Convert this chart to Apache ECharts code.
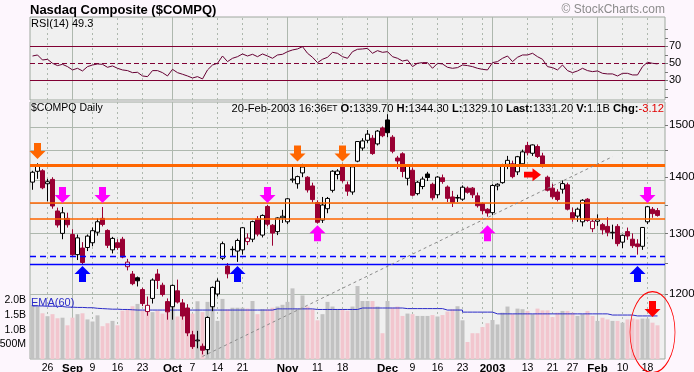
<!DOCTYPE html>
<html>
<head>
<meta charset="utf-8">
<script src="https://cdn.jsdelivr.net/npm/echarts@6.0.0/dist/echarts.min.js"></script>
<style>
html,body{margin:0;padding:0;background:#FDF6FD;}
#chart{width:694px;height:372px;}
</style>
</head>
<body>
<div id="chart"></div>
<script>
const dates = ['2002-08-21','2002-08-22','2002-08-23','2002-08-26','2002-08-27','2002-08-28','2002-08-29','2002-08-30',
'2002-09-03','2002-09-04','2002-09-05','2002-09-06','2002-09-09','2002-09-10','2002-09-11','2002-09-12','2002-09-13','2002-09-16','2002-09-17','2002-09-18','2002-09-19','2002-09-20','2002-09-23','2002-09-24','2002-09-25','2002-09-26','2002-09-27','2002-09-30',
'2002-10-01','2002-10-02','2002-10-03','2002-10-04','2002-10-07','2002-10-08','2002-10-09','2002-10-10','2002-10-11','2002-10-14','2002-10-15','2002-10-16','2002-10-17','2002-10-18','2002-10-21','2002-10-22','2002-10-23','2002-10-24','2002-10-25','2002-10-28','2002-10-29','2002-10-30','2002-10-31',
'2002-11-01','2002-11-04','2002-11-05','2002-11-06','2002-11-07','2002-11-08','2002-11-11','2002-11-12','2002-11-13','2002-11-14','2002-11-15','2002-11-18','2002-11-19','2002-11-20','2002-11-21','2002-11-22','2002-11-25','2002-11-26','2002-11-27','2002-11-29',
'2002-12-02','2002-12-03','2002-12-04','2002-12-05','2002-12-06','2002-12-09','2002-12-10','2002-12-11','2002-12-12','2002-12-13','2002-12-16','2002-12-17','2002-12-18','2002-12-19','2002-12-20','2002-12-23','2002-12-24','2002-12-26','2002-12-27','2002-12-30','2002-12-31',
'2003-01-02','2003-01-03','2003-01-06','2003-01-07','2003-01-08','2003-01-09','2003-01-10','2003-01-13','2003-01-14','2003-01-15','2003-01-16','2003-01-17','2003-01-21','2003-01-22','2003-01-23','2003-01-24','2003-01-27','2003-01-28','2003-01-29','2003-01-30','2003-01-31',
'2003-02-03','2003-02-04','2003-02-05','2003-02-06','2003-02-07','2003-02-10','2003-02-11','2003-02-12','2003-02-13','2003-02-14','2003-02-18','2003-02-19','2003-02-20'];

const opens = [1391,1411,1412,1388,1396,1339,1300,1326,
1298,1264,1275,1276,1284,1302,1326,1305,1272,1284,1290,1244,1232,1226,1207,1172.5,1193,1232,1214,1188,
1180,1205,1186,1178,1137,1128,1120,1115,1180,1200,1258,1245,1273,1270,1272,1286,1290,1325,1297,1347,1314,1303,1327,
1320,1395,1388,1408,1400,1384,1354,1323,1343,1376,1405,1422,1386,1373,1430,1455,1470,1474,1463,1494,
1510,1476,1436,1444,1398,1413,1370,1383,1406,1387,1368,1399,1382,1364,1362,1360,1380,1380,1366,1352,1342,
1336,1384,1390,1424,1425,1410,1425,1460,1445,1458,1440,1400,1380,1373,1378,1386,1336,1330,1320,1360,1308,
1321,1315,1312,1301,1312,1285,1303,1290,1282,1278,1320,1342,1339.7];

const highs = [1412,1426,1415,1397,1400,1345,1346,1336,
1307,1298,1285,1298,1310,1326,1346,1307,1294,1290,1294,1257,1237,1228,1210,1196,1225,1240,1218,1193,
1215,1223,1192,1184,1143,1143,1124,1165,1212,1225,1286,1250,1278,1291,1311,1300,1322,1330,1333,1350,1316,1328,1341,
1362,1420,1403,1425,1402,1390,1358,1364,1364,1413,1415,1425,1392,1421,1468,1474,1490,1480,1490,1497,
1521.44,1480,1440,1447,1424,1418,1393,1401,1410,1390,1402,1405,1385,1375,1368,1385,1383,1382,1372,1354,1344,
1387,1389,1425,1440,1431,1440,1452,1467,1462,1462,1446,1403,1388,1378,1394,1390,1345,1345,1360,1362,1324,
1333,1318,1328,1315,1316,1298,1310,1300,1290,1311,1348,1346,1344.3];

const lows = [1377,1397,1378,1356,1343,1310,1290,1310,
1262,1255,1248,1270,1278,1296,1312,1275,1266,1272,1258,1238,1214,1212,1181,1166,1185,1208,1196,1160,
1160,1185,1160,1135,1116,1117,1108,1108,1173,1196,1255,1225,1262,1252,1264,1280,1285,1295,1293,1312,1279,1297,1318,
1316,1390,1379,1400,1372,1354,1317,1318,1335,1372,1396,1390,1366,1368,1428,1450,1465,1442,1460,1476,
1476,1445,1415,1400,1385,1365,1367,1378,1393,1358,1362,1388,1355,1346,1355,1357,1370,1362,1345,1333,1329,
1332,1376,1388,1415,1398,1404,1420,1441,1440,1436,1418,1374,1360,1356,1370,1340,1320,1320,1312,1320,1302,
1313,1298,1295,1290,1278,1275,1289,1275,1264,1272,1316,1327,1329.1];

const closes = [1409.25,1422.95,1380.62,1391.74,1347.78,1314.38,1335.77,1314.85,
1263.84,1292.31,1251.00,1295.30,1304.60,1320.09,1315.45,1279.68,1291.40,1275.88,1259.94,1251.60,1216.45,1221.09,1184.93,1182.17,1222.29,1221.61,1199.16,1172.06,
1213.72,1187.30,1165.56,1139.90,1119.40,1129.21,1114.11,1163.37,1210.47,1220.53,1282.44,1232.42,1272.29,1287.86,1309.67,1292.03,1320.29,1298.71,1331.13,1315.83,1300.54,1326.73,1329.75,
1360.70,1396.54,1401.17,1418.99,1376.71,1359.28,1319.19,1349.56,1361.34,1411.14,1411.52,1393.69,1374.51,1419.35,1467.55,1468.74,1481.90,1444.43,1487.94,1478.78,
1484.78,1448.96,1430.35,1410.75,1422.38,1367.14,1390.76,1396.59,1399.55,1362.42,1400.33,1392.04,1361.51,1354.10,1363.05,1381.69,1372.47,1367.89,1348.31,1339.54,1335.51,
1384.85,1387.08,1421.32,1431.57,1401.07,1438.46,1447.72,1446.04,1460.99,1438.80,1423.75,1376.19,1364.25,1359.48,1388.27,1342.18,1325.27,1342.14,1358.06,1322.35,1320.91,
1323.79,1306.15,1301.73,1301.87,1282.47,1296.68,1295.46,1278.97,1277.44,1310.17,1346.54,1334.32,1331.20];

// volume in billions of shares
const volumes = [1.84,1.79,1.56,1.46,1.53,1.39,1.41,1.15,
1.41,1.53,1.56,1.35,1.28,1.49,1.12,1.22,1.30,1.15,1.65,1.70,1.80,1.88,1.65,1.78,1.60,1.65,1.55,1.62,
1.90,1.45,1.60,1.60,1.55,1.97,1.60,1.95,1.92,1.30,2.05,1.70,1.75,1.75,1.75,1.72,1.98,1.53,1.70,1.70,1.75,1.79,1.85,
1.95,2.41,1.72,2.17,1.79,1.70,1.32,1.53,1.95,1.79,1.70,1.70,1.65,1.79,2.49,1.98,1.98,1.98,1.79,0.88,
1.98,1.75,1.79,1.47,1.55,1.53,1.47,1.47,1.47,1.50,1.45,1.50,1.62,1.70,1.80,1.32,0.58,0.88,0.88,1.09,1.22,
1.33,1.18,1.58,1.79,1.53,1.72,1.70,1.64,1.53,1.72,1.66,1.66,1.43,1.58,1.64,1.64,1.58,1.47,1.53,1.64,1.47,
1.30,1.41,1.35,1.30,1.30,1.24,1.35,1.38,1.35,1.38,1.38,1.24,1.15];

const ema60 = [1.81,1.81,1.80,1.80,1.80,1.79,1.77,1.77,
1.76,1.76,1.75,1.75,1.73,1.72,1.71,1.70,1.70,1.69,1.69,1.68,1.67,1.67,1.67,1.67,1.67,1.67,1.67,1.67,
1.67,1.67,1.67,1.67,1.67,1.67,1.67,1.67,1.67,1.67,1.67,1.67,1.67,1.67,1.67,1.67,1.67,1.67,1.67,1.67,1.71,1.71,1.71,
1.71,1.71,1.71,1.71,1.71,1.69,1.69,1.69,1.69,1.69,1.69,1.69,1.69,1.69,1.74,1.74,1.74,1.74,1.74,1.74,
1.74,1.74,1.74,1.72,1.72,1.72,1.72,1.72,1.72,1.72,1.72,1.67,1.67,1.67,1.67,1.60,1.60,1.60,1.60,1.60,1.60,
1.54,1.54,1.54,1.54,1.54,1.54,1.54,1.54,1.54,1.54,1.54,1.54,1.54,1.54,1.54,1.54,1.54,1.54,1.54,1.54,1.54,
1.54,1.54,1.50,1.50,1.50,1.50,1.50,1.47,1.47,1.47,1.47,1.47,1.47];

const rsi14 = [58.6,59.8,53.9,54.7,50.0,47.3,48.8,46.1,
42.2,44.1,41.0,46.1,48.0,49.2,48.8,45.3,46.9,44.1,42.2,41.4,39.0,39.4,35.1,34.3,41.4,41.4,39.0,35.1,
42.9,39.0,37.1,35.1,32.7,34.3,31.6,42.2,48.0,50.0,58.6,52.0,55.9,57.8,61.0,58.6,60.6,57.8,61.0,58.6,55.9,59.8,60.6,
63.7,65.7,66.9,69.6,61.8,57.1,50.8,54.7,57.1,62.9,61.8,57.8,55.9,63.7,66.5,66.9,67.6,61.8,64.9,62.9,
63.7,57.8,55.9,52.7,53.9,46.1,50.0,50.8,50.8,44.1,50.0,49.2,45.3,44.1,44.9,48.0,47.3,46.1,44.1,42.9,42.2,
50.8,52.0,55.9,58.6,52.0,57.1,59.8,59.8,61.8,57.8,54.7,46.1,44.9,42.2,48.0,41.4,39.0,41.0,44.1,41.4,40.2,
41.0,38.2,37.5,37.5,35.1,38.2,38.2,36.3,36.3,46.1,51.2,50.0,49.3];

// x-axis labels (index into dates) and gridlines
const xTickIdx  = [3,8,12,17,22,28,32,37,42,51,57,62,71,76,81,86,92,99,104,108,113,118,123];
const xTickText = ['26','Sep','9','16','23','Oct','7','14','21','Nov','11','18','Dec','9','16','23','2003','13','21','27','Feb','10','18'];
const monthIdx  = [8,28,51,71,92,113];
const weekIdx   = [3,12,17,22,32,37,42,47,57,62,67,76,81,86,90,99,104,108,118,123];

const priceTicks = [1200,1300,1400,1500];
const priceGrid  = [1200,1250,1300,1350,1400,1450,1500];
const priceMin = 1101.3, priceMax = 1546.2;
const volTicks = [0.5,1.0,1.5,2.0];
const volMax = 8.77;
const rsiTicks = [30,50,70];
const rsiMinorTicks = [10,20,30,40,50,60,70,80,90];
const rsiMin = 6.8, rsiMax = 104.5;

// annotation levels
const levelPrices = [1422,1347,1320,1261,1251];
// trendlines [x0, p0, x1, p1] in (bar index, price)
const grayTrend    = [33.84,1105,116.16,1438.5];
const magentaTrend = [104.16,1402.3,127.36,1268];
// arrows: bar index, price at arrow centre, kind
const arrowIdx   = [1.0,52.76,61.84, 6.1,13.9,46.9,122.84, 56.7,90.8, 9.64,41.3,121.24, 100.24, 124.4];
const arrowPrice = [1449.4,1444.6,1444.6, 1367.6,1367.6,1367.6,1367.6, 1300.2,1300.2, 1231.9,1231.9,1231.9, 1404.7, 1176.3];
const arrowKind  = ['down','down','down','down','down','down','down','up','up','up','up','up','right','down'];
const ellipseAt  = [123.6, 1141];

// ---------- styles ----------
const FONT = "'Liberation Sans', Arial, sans-serif";
const arrowColor = ['#FF6600','#FF6600','#FF6600','#FF00FF','#FF00FF','#FF00FF','#FF00FF','#FF00FF','#FF00FF','#0000FF','#0000FF','#0000FF','#FF0000','#FF0000'];
const arrowPath = {
  down: 'path://M4.5,0 L11.5,0 L11.5,8 L16,8 L8,16 L0,8 L4.5,8 Z',
  up: 'path://M4.5,16 L11.5,16 L11.5,8 L16,8 L8,0 L0,8 L4.5,8 Z',
  right: 'path://M0,4.5 L0,11.5 L8,11.5 L8,16 L16,8 L8,0 L8,4.5 Z'
};
const levelStyles = [
  {color:'#FF6600', width:3, type:'solid'},
  {color:'#FF6600', width:1.6, type:'solid'},
  {color:'#FF6600', width:1.6, type:'solid'},
  {color:'#0000FF', width:1.3, type:[6,4]},
  {color:'#0000FF', width:1.3, type:'solid'}
];
const UP = '#000000', DN = '#990033';
const GRIDC = '#AEB8AE';
const LN = Math.log;

const cats = dates.concat(['']);
const nulls = cats.map(() => null);

const isUp = dates.map((d, i) => i === 0 ? true : closes[i] >= closes[i - 1]);

const candleData = dates.map((d, i) => {
  const o = opens[i], c = closes[i];
  const col = isUp[i] ? UP : DN;
  const fill = c > o ? '#FFFFFF' : col;
  return {
    value: [LN(o), LN(c), LN(lows[i]), LN(highs[i])],
    itemStyle: {color: fill, color0: fill, borderColor: col, borderColor0: col, borderWidth: 1}
  };
});
const volData = volumes.map((v, i) => ({value: v, itemStyle: {color: isUp[i] ? '#C2C2C2' : '#F2C6CE'}}));

const labelMap = {};
xTickIdx.forEach((k, j) => { labelMap[k] = xTickText[j]; });
const monthSet = new Set(monthIdx);

function vLines() {
  return weekIdx.map(k => ({xAxis: k, lineStyle: {color: GRIDC, type: [2, 3], width: 1}}))
    .concat(monthIdx.map(k => ({xAxis: k, lineStyle: {color: GRIDC, type: 'solid', width: 1}})));
}

const baseX = (gi, show) => ({
  type: 'category', gridIndex: gi, data: cats, boundaryGap: true,
  axisLine: {show: false}, axisTick: {show: false}, splitLine: {show: false},
  axisLabel: show ? {
    show: true, interval: (idx) => labelMap[idx] !== undefined, margin: 4,
    formatter: (val, idx) => monthSet.has(idx) ? '{m|' + labelMap[idx] + '}' : '{d|' + (labelMap[idx] || '') + '}',
    rich: {
      m: {fontFamily: FONT, fontSize: 11.5, fontWeight: 'bold', color: '#000'},
      d: {fontFamily: FONT, fontSize: 10.5, color: '#000'}
    }
  } : {show: false}
});

const gridCommon = {left: 30, right: 29, show: true, backgroundColor: '#F0F0F0', borderColor: '#9EA89E', borderWidth: 1, containLabel: false, outerBoundsMode: 'none'};

const option = {
  animation: false,
  backgroundColor: '#FDF6FD',
  textStyle: {fontFamily: FONT},
  grid: [
    Object.assign({top: 17, height: 83}, gridCommon),
    Object.assign({top: 102, height: 257}, gridCommon),
    Object.assign({top: 102, height: 257}, gridCommon, {show: false})
  ],
  xAxis: [baseX(0, false), baseX(1, true), baseX(2, false)],
  yAxis: [
    {type: 'value', gridIndex: 0, position: 'right', min: rsiMin, max: rsiMax,
     splitLine: {show: false}, axisLine: {show: false},
     axisTick: {show: true, customValues: rsiMinorTicks, length: 3, lineStyle: {color: '#777'}},
     axisLabel: {show: true, customValues: rsiTicks, margin: 4, fontSize: 11, color: '#000', fontFamily: FONT}},
    {type: 'value', gridIndex: 1, position: 'right', min: LN(priceMin), max: LN(priceMax),
     splitLine: {show: false}, axisLine: {show: false},
     axisTick: {show: true, customValues: priceGrid.map(LN), length: 3, lineStyle: {color: '#777'}},
     axisLabel: {show: true, customValues: priceTicks.map(LN), margin: 4, fontSize: 11.5, color: '#000', fontFamily: FONT,
                 formatter: v => String(Math.round(Math.exp(v)))}},
    {type: 'value', gridIndex: 2, position: 'left', min: 0, max: volMax,
     splitLine: {show: false}, axisLine: {show: false}, axisTick: {show: false},
     axisLabel: {show: true, customValues: volTicks, margin: 4, fontSize: 10.5, color: '#000', fontFamily: FONT,
                 formatter: v => v < 1 ? Math.round(v * 1000) + 'M' : v.toFixed(1) + 'B'}}
  ],
  series: [
    {type: 'line', xAxisIndex: 0, yAxisIndex: 0, data: nulls, silent: true, z: 1, symbol: 'none',
     markLine: {silent: true, z: 1, symbol: ['none', 'none'], label: {show: false}, animation: false, data: vLines()}},
    {type: 'line', xAxisIndex: 0, yAxisIndex: 0, data: rsi14, symbol: 'none', z: 4,
     lineStyle: {color: '#660033', width: 1},
     markLine: {silent: true, z: 3, symbol: ['none', 'none'], label: {show: false}, animation: false,
       data: [
         {yAxis: 70, lineStyle: {color: '#800033', width: 1.2, type: 'solid'}},
         {yAxis: 30, lineStyle: {color: '#800033', width: 1.2, type: 'solid'}},
         {yAxis: 50, lineStyle: {color: '#800033', width: 1.2, type: [5, 3]}}
       ]}},
    {type: 'line', xAxisIndex: 1, yAxisIndex: 1, data: nulls, silent: true, z: 1, symbol: 'none',
     markLine: {silent: true, z: 1, symbol: ['none', 'none'], label: {show: false}, animation: false,
       data: vLines().concat(priceGrid.map(p => ({yAxis: LN(p), lineStyle: {color: GRIDC, type: 'solid', width: 1}})))}},
    {type: 'bar', xAxisIndex: 2, yAxisIndex: 2, data: volData, barWidth: 4, z: 2, silent: true},
    {type: 'line', xAxisIndex: 2, yAxisIndex: 2, data: ema60, symbol: 'none', step: 'end', z: 3, silent: true,
     lineStyle: {color: '#2B2BC8', width: 1}},
    {type: 'candlestick', xAxisIndex: 1, yAxisIndex: 1, data: candleData, barWidth: 4, z: 5, silent: true},
    {type: 'line', xAxisIndex: 1, yAxisIndex: 1, data: nulls, silent: true, z: 8, symbol: 'none', clip: false,
     markLine: {silent: true, z: 8, symbol: ['none', 'none'], label: {show: false}, animation: false,
       data: levelPrices.map((p, k) => ({yAxis: LN(p), lineStyle: levelStyles[k]})).concat([
         [{coord: [grayTrend[0], LN(grayTrend[1])], lineStyle: {color: '#8A8A8A', width: 1, type: [3, 3]}},
          {coord: [grayTrend[2], LN(grayTrend[3])]}],
         [{coord: [magentaTrend[0], LN(magentaTrend[1])], lineStyle: {color: '#FF00FF', width: 1, type: 'solid'}},
          {coord: [magentaTrend[2], LN(magentaTrend[3])]}]
       ])},
     markPoint: {silent: true, z: 9, animation: false, label: {show: false},
       data: arrowIdx.map((x, k) => ({
         coord: [x, LN(arrowPrice[k])], symbol: arrowPath[arrowKind[k]],
         symbolSize: arrowKind[k] === 'right' ? [17, 13] : [16, 16],
         symbolKeepAspect: false,
         itemStyle: {color: arrowColor[k]}
       })).concat([{
         coord: [ellipseAt[0], LN(ellipseAt[1])], symbol: 'circle', symbolSize: [45, 81],
         itemStyle: {color: 'rgba(0,0,0,0)', borderColor: '#FF0000', borderWidth: 1}
       }])}}
  ],
  graphic: [
    {type: 'text', x: 30, y: 10, z: 100, style: {text: 'Nasdaq Composite ($COMPQ)', font: 'bold 13px ' + FONT, fill: '#000', verticalAlign: 'middle', textVerticalAlign: 'middle'}},
    {type: 'text', x: 665, y: 10, z: 100, style: {text: '\u00A9 StockCharts.com', font: '12px ' + FONT, fill: '#8C8C8C', align: 'right', textAlign: 'right', verticalAlign: 'middle', textVerticalAlign: 'middle'}},
    {type: 'text', x: 31, y: 24, z: 100, style: {text: 'RSI(14) 49.3', font: '11px ' + FONT, fill: '#000', verticalAlign: 'middle', textVerticalAlign: 'middle'}},
    {type: 'text', x: 31, y: 108.5, z: 100, style: {text: '$COMPQ Daily', font: '10.5px ' + FONT, fill: '#000', verticalAlign: 'middle', textVerticalAlign: 'middle'}},
    {type: 'text', x: 664, y: 108.5, z: 100, style: {
      text: '20-Feb-2003 16:36{et|ET} {b|O:}1339.70 {b|H:}1344.30 {b|L:}1329.10 {b|Last:}1331.20 {b|V:}1.1B {b|Chg:}{r|-3.12}',
      font: '11.2px ' + FONT, fill: '#000', align: 'right', textAlign: 'right', verticalAlign: 'middle', textVerticalAlign: 'middle',
      rich: {
        et: {fontSize: 8.5, fontFamily: FONT, fill: '#000'},
        b: {fontSize: 11.2, fontFamily: FONT, fontWeight: 'bold', fill: '#000'},
        r: {fontSize: 11.2, fontFamily: FONT, fill: '#E00000'}
      }}},
    {type: 'text', x: 31, y: 302.5, z: 100, style: {text: 'EMA(60)', font: '11px ' + FONT, fill: '#2B2BC8', verticalAlign: 'middle', textVerticalAlign: 'middle'}}
  ]
};

const chart = echarts.init(document.getElementById('chart'), null, {renderer: 'canvas', width: 694, height: 372});
chart.setOption(option);
</script>
</body>
</html>
